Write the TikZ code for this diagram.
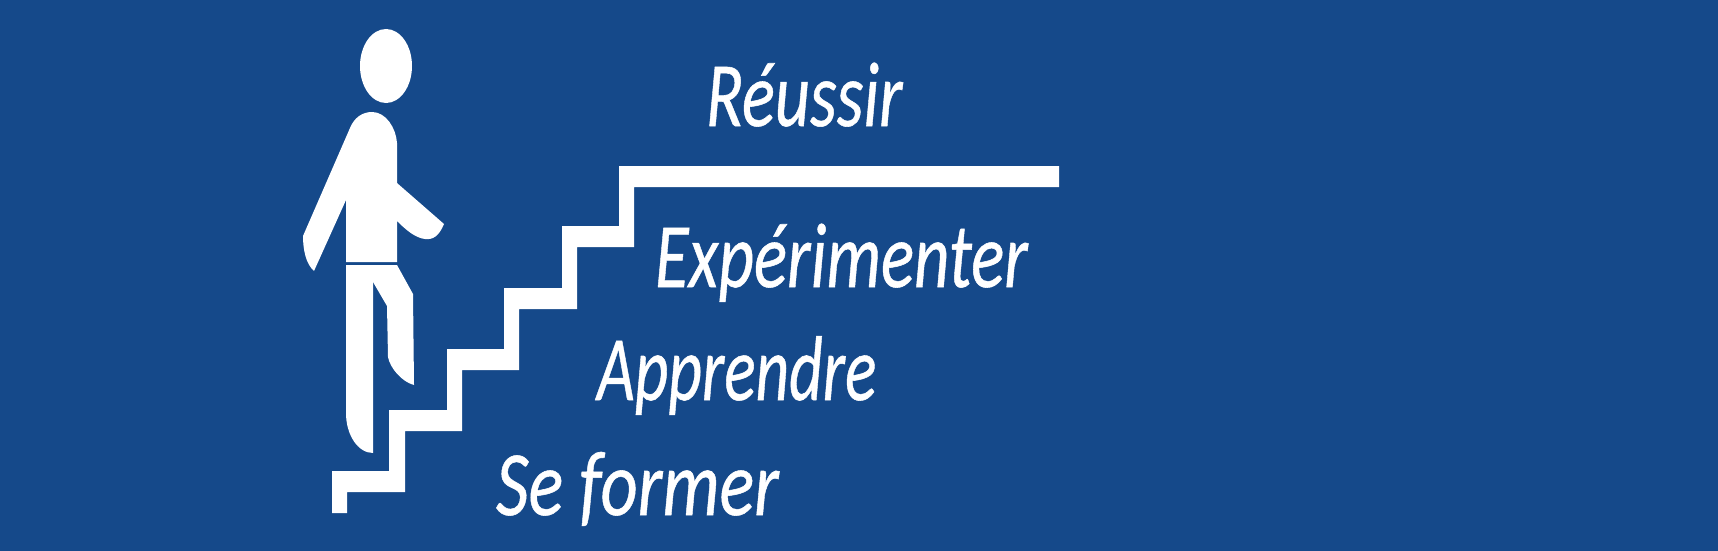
\documentclass[tikz,border=0pt]{standalone}
\usepackage{fontspec}
\setmainfont{Carlito}[ItalicFeatures={FakeBold=0.6}]
\definecolor{bgblue}{HTML}{15498A}
\newcommand{\squeezed}[2]{\scalebox{#1}[1]{#2}}
\tikzset{
  figure/.style={fill=white,draw=none},
  word/.style={text=white,anchor=base west,inner sep=0pt,outer sep=0pt,font=\fontsize{92}{92}\selectfont\itshape}
}
\begin{document}
\begin{tikzpicture}[x=1pt,y=-1pt]
\fill[bgblue] (0,0) rectangle (1718,551);
\useasboundingbox (0,0) rectangle (1718,551);
% stairs
\fill[figure] (332,513) -- (332,471) -- (389,471) -- (389,410) -- (447,410) -- (447,349) -- (504,349) -- (504,288) -- (562,288) -- (562,226) -- (619,226) -- (619,166) -- (1059,166) -- (1059,187) -- (634,187) -- (634,247) -- (577,247) -- (577,309) -- (519,309) -- (519,370) -- (462,370) -- (462,431) -- (405,431) -- (405,492) -- (347,492) -- (347,513) -- cycle;
% person
\fill[figure] (386,66) ellipse [x radius=26,y radius=37];
\fill[figure] (372,112) .. controls (386,112) and (396,128) .. (397,143) -- (397,183) -- (444,224) .. controls (439,236) and (433,240) .. (425,239) .. controls (415,238) and (405,229) .. (397,221) -- (397,262) -- (346,262) -- (346,200) -- (314,271) .. controls (306,264) and (303,250) .. (303,236) -- (350,128) .. controls (354,118) and (362,112) .. (372,112) -- cycle;
\fill[figure] (346,265) -- (373,265) -- (373,453) .. controls (358,453) and (346,435) .. (346,413) -- cycle;
\fill[figure] (373,265) -- (397,265) -- (413,294) -- (414,385) .. controls (402,382) and (390,368) .. (388,357) -- (387,306) -- (373,282) -- cycle;
% labels
\node[word] (reussir) at (706,126) {\squeezed{0.745}{Réussir}};
\node[word] (experimenter) at (655,287) {\squeezed{0.75}{Expérimenter}};
\node[word] (apprendre) at (597,400) {\squeezed{0.71}{Apprendre}};
\node[word] (former) at (496,515) {\squeezed{0.785}{Se former}};
\end{tikzpicture}
\end{document}
